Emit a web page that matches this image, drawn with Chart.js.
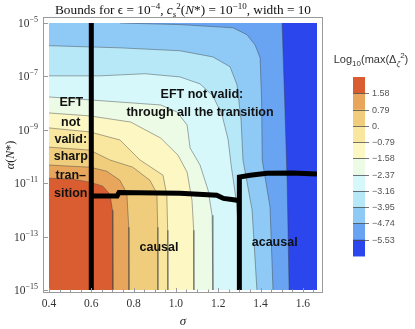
<!DOCTYPE html>
<html>
<head>
<meta charset="utf-8">
<script src="https://cdn.jsdelivr.net/npm/chart.js@4.4.1/dist/chart.umd.min.js"></script>
<style>
  html, body { margin: 0; padding: 0; background: #fff; }
  #wrap { position: relative; width: 415px; height: 329px; }
</style>
</head>
<body>
<div id="wrap"><canvas id="chart"></canvas></div>
<script>
// ============================================================
// DATA
// ============================================================

// contour levels of Log10(max(Delta_zeta^2)), highest first
const levelValues = [1.58, 0.79, 0, -0.79, -1.58, -2.37, -3.16, -3.95, -4.74, -5.53];
const levelLabels = ["1.58", "0.79", "0.", "\u22120.79", "\u22121.58", "\u22122.37", "\u22123.16", "\u22123.95", "\u22124.74", "\u22125.53"];

// one colour per band, from above 1.58 down to below -5.53
const bandColors = ["#d95d30", "#e8a55c", "#f0cd7c", "#f9e7a0", "#fdf7c4", "#ecfbe6",
                    "#d6f8fb", "#b7e8f8", "#8fcaf6", "#68a4f2", "#2c46ee"];

// contour lines, points are [sigma, log10 alpha(N*)]
const contour158 = [[0.4,-10.81],[0.512,-10.85],[0.593,-10.96],[0.654,-11.11],[0.688,-11.41],[0.700,-12.01],[0.702,-15]];
const contour079 = [[0.4,-10.32],[0.593,-10.40],[0.673,-10.55],[0.735,-10.89],[0.768,-11.38],[0.777,-12.65],[0.778,-15]];
const contour0   = [[0.4,-9.65],[0.593,-9.76],[0.688,-10.13],[0.796,-10.40],[0.877,-10.89],[0.910,-11.38],[0.914,-12.65],[0.915,-15]];
const contourM079 = [[0.4,-8.93],[0.593,-9.08],[0.735,-9.38],[0.830,-10.13],[0.939,-10.70],[0.957,-11.45],[0.961,-12.76],[0.962,-15]];
const contourM158 = [[0.4,-8.37],[0.593,-8.48],[0.786,-8.71],[0.928,-9.31],[1.010,-9.95],[1.053,-10.59],[1.076,-11.64],[1.084,-12.76],[1.085,-15]];
const contourM237 = [[0.4,-7.77],[0.593,-7.88],[0.786,-7.99],[0.928,-8.07],[1.005,-8.33],[1.053,-8.82],[1.067,-9.68],[1.114,-10.32],[1.152,-11.26],[1.171,-12.20],[1.175,-15]];
const contourM316 = [[0.4,-6.98],[0.640,-6.98],[0.853,-6.90],[1.019,-7.02],[1.114,-7.28],[1.175,-7.73],[1.218,-8.44],[1.247,-9.38],[1.261,-10.32],[1.285,-11.64],[1.301,-13.14],[1.303,-15]];
const contourM395 = [[0.4,-5.85],[0.735,-5.93],[1.019,-6.04],[1.175,-6.27],[1.256,-6.64],[1.289,-7.32],[1.308,-8.63],[1.317,-10.13],[1.360,-12.0],[1.383,-15]];
// these two leave the plot through the top edge
const contourM474 = [[0.735,-5],[1.019,-5.06],[1.270,-5.18],[1.336,-5.44],[1.374,-5.82],[1.398,-6.30],[1.405,-7.88],[1.408,-10.13],[1.445,-11.90],[1.459,-15]];
const contourM553 = [[1.502,-5],[1.514,-7.88],[1.526,-11.0],[1.535,-15]];

// thick black bounds
const eftBound     = [[0.6,-5],[0.6,-15]];
const causalBound  = [[0.6,-11.48],[0.722,-11.48],[0.731,-11.35],[1.019,-11.38],[1.193,-11.45],[1.225,-11.57],[1.281,-11.63],[1.30,-11.66]];
const acausalBound = [[1.30,-15],[1.30,-10.77],[1.351,-10.70],[1.431,-10.63],[1.55,-10.62],[1.667,-10.66]];

// plot range of the data and the ticks
const sigmaMin = 0.4, sigmaMax = 1.667;
const alphaMin = -15, alphaMax = -5;
const xTicks = [0.4, 0.6, 0.8, 1.0, 1.2, 1.4, 1.6];
const xTickLabels = ["0.4", "0.6", "0.8", "1.0", "1.2", "1.4", "1.6"];
const yTicks = [-5, -7, -9, -11, -13, -15];

// region labels
const regionLabels = [
  { text: "EFT not valid:",             sigma: 1.123, alpha: -7.69 },
  { text: "through all the transition", sigma: 1.114, alpha: -8.37 },
  { text: "EFT",    sigma: 0.505, alpha: -7.99 },
  { text: "not",    sigma: 0.503, alpha: -8.71 },
  { text: "valid:", sigma: 0.503, alpha: -9.38 },
  { text: "sharp",  sigma: 0.503, alpha: -10.02 },
  { text: "tran\u2013", sigma: 0.503, alpha: -10.70 },
  { text: "sition", sigma: 0.503, alpha: -11.38 },
  { text: "causal",  sigma: 0.920, alpha: -13.41 },
  { text: "acausal", sigma: 1.467, alpha: -13.22 },
];


// ============================================================
// STYLE
// ============================================================

const SERIF = '"Liberation Serif", "Times New Roman", serif';
const SANS  = '"Liberation Sans", Arial, sans-serif';
const contourLineColor = "rgba(60,60,60,0.55)";
const frameColor = "#9a9a9a";


// ============================================================
// DATASETS
// ============================================================

function toPoints(arr) {
  return arr.map(p => ({ x: p[0], y: p[1] }));
}

// closed region below / left of a contour, down to the bottom-left corner
function bandShape(contour) {
  const pts = contour.slice();
  if (pts[0][0] > sigmaMin) pts.unshift([sigmaMin, alphaMax]);
  pts.push([sigmaMin, alphaMin]);
  return pts;
}

const contours = [contour158, contour079, contour0, contourM079, contourM158,
                  contourM237, contourM316, contourM395, contourM474, contourM553];

function boundDataset(arr, order) {
  return {
    data: toPoints(arr),
    borderColor: "#000",
    borderWidth: 5,
    borderCapStyle: "butt",
    borderJoinStyle: "miter",
    pointRadius: 0,
    fill: false,
    clip: 0,
    order: order,
  };
}

const datasets = [
  boundDataset(eftBound, 0),
  boundDataset(causalBound, 1),
  boundDataset(acausalBound, 2),
];

contours.forEach((c, i) => {
  // contour line
  datasets.push({
    data: toPoints(c),
    fill: false,
    borderColor: contourLineColor,
    borderWidth: 0.8,
    pointRadius: 0,
    order: 5,
  });
  // filled band above this level
  datasets.push({
    data: toPoints(bandShape(c)),
    fill: "shape",
    backgroundColor: bandColors[i],
    borderWidth: 0,
    pointRadius: 0,
    order: 10 + i,
  });
});

// lowest band fills the whole plot underneath
datasets.push({
  data: toPoints([[sigmaMin, alphaMax], [sigmaMax, alphaMax], [sigmaMax, alphaMin], [sigmaMin, alphaMin]]),
  fill: "shape",
  backgroundColor: bandColors[10],
  borderWidth: 0,
  pointRadius: 0,
  order: 30,
});


// ============================================================
// DRAWING HELPERS
// ============================================================

function drawRuns(ctx, runs, x, y, align) {
  let w = 0;
  runs.forEach(r => { ctx.font = r.f; w += ctx.measureText(r.t).width; });
  let cx = align === "center" ? x - w / 2 : align === "right" ? x - w : x;
  ctx.textAlign = "left";
  ctx.textBaseline = "alphabetic";
  runs.forEach(r => {
    ctx.font = r.f;
    ctx.fillText(r.t, cx, y + (r.dy || 0));
    cx += ctx.measureText(r.t).width;
  });
}

const decorPlugin = {
  id: "decor",
  afterDatasetsDraw(chart) {
    const { ctx, scales: { x, y } } = chart;
    ctx.save();
    ctx.fillStyle = "#111";
    ctx.font = "bold 12.5px " + SANS;
    ctx.textAlign = "center";
    ctx.textBaseline = "middle";
    regionLabels.forEach(l => ctx.fillText(l.text, x.getPixelForValue(l.sigma), y.getPixelForValue(l.alpha)));
    ctx.restore();
  },
  afterDraw(chart) {
    const { ctx, chartArea: a, scales: { x, y } } = chart;
    // frame sits a little outside the data region
    const f = { left: a.left - 6, top: a.top - 6, right: a.right + 6, bottom: a.bottom + 3 };
    ctx.save();

    ctx.strokeStyle = frameColor;
    ctx.lineWidth = 1;
    ctx.strokeRect(f.left + 0.5, f.top + 0.5, f.right - f.left - 1, f.bottom - f.top - 1);

    // x ticks (inward), minor every 0.05
    ctx.beginPath();
    for (let v = 0.4; v <= 1.6501; v += 0.05) {
      const px = Math.round(x.getPixelForValue(v)) + 0.5;
      const major = xTicks.some(t => Math.abs(t - v) < 1e-6);
      ctx.moveTo(px, f.bottom - 1);
      ctx.lineTo(px, f.bottom - 1 - (major ? 4 : 2.5));
    }
    yTicks.forEach(t => {
      const py = Math.round(y.getPixelForValue(t)) + 0.5;
      ctx.moveTo(f.left + 1, py);
      ctx.lineTo(f.left + 5, py);
    });
    ctx.stroke();

    // tick labels
    ctx.fillStyle = "#333";
    ctx.font = "11.5px " + SERIF;
    ctx.textAlign = "center";
    ctx.textBaseline = "top";
    xTicks.forEach((t, i) => ctx.fillText(xTickLabels[i], x.getPixelForValue(t), f.bottom + 5));
    yTicks.forEach(t => {
      drawRuns(ctx, [
        { t: "10", f: "11.5px " + SERIF },
        { t: "\u2212" + Math.abs(t), f: "8px " + SERIF, dy: -5 },
      ], f.left - 5, y.getPixelForValue(t) + 4, "right");
    });

    // axis titles
    ctx.fillStyle = "#222";
    drawRuns(ctx, [{ t: "\u03c3", f: "italic 13px " + SERIF }], (f.left + f.right) / 2, 325, "center");
    ctx.save();
    ctx.translate(10, (f.top + f.bottom) / 2);
    ctx.rotate(-Math.PI / 2);
    drawRuns(ctx, [
      { t: "\u03b1", f: "italic 12px " + SERIF },
      { t: "(", f: "12px " + SERIF },
      { t: "N", f: "italic 12px " + SERIF },
      { t: "*", f: "12px " + SERIF },
      { t: ")", f: "12px " + SERIF },
    ], 0, 4, "center");
    ctx.restore();

    // chart title
    ctx.fillStyle = "#111";
    const tf = "13.3px " + SERIF, tfs = "9px " + SERIF;
    drawRuns(ctx, [
      { t: "Bounds for \u03f5 = 10", f: tf },
      { t: "\u22124", f: tfs, dy: -5 },
      { t: ", ", f: tf },
      { t: "c", f: "italic " + tf },
      { t: "s", f: "italic " + tfs, dy: 3 },
      { t: "2", f: tfs, dy: -5 },
      { t: "(", f: tf },
      { t: "N", f: "italic " + tf },
      { t: "*) = 10", f: tf },
      { t: "\u221210", f: tfs, dy: -5 },
      { t: ", width = 10", f: tf },
    ], 183, 14, "center");

    // colour legend
    const barX = 353, barW = 12, barTop = 77, bandH = 16.27;
    bandColors.forEach((c, i) => {
      ctx.fillStyle = c;
      ctx.fillRect(barX, barTop + i * bandH, barW, bandH + 0.5);
    });
    ctx.strokeStyle = "rgba(70,70,70,0.75)";
    ctx.lineWidth = 1;
    ctx.fillStyle = "#555";
    ctx.font = "9px " + SANS;
    ctx.textAlign = "left";
    ctx.textBaseline = "middle";
    levelLabels.forEach((lab, i) => {
      const py = Math.round(barTop + (i + 1) * bandH) + 0.5;
      ctx.beginPath();
      ctx.moveTo(barX, py);
      ctx.lineTo(barX + barW + 4, py);
      ctx.stroke();
      ctx.fillText(lab, barX + barW + 7, py);
    });
    ctx.fillStyle = "#333";
    const lf = "11px " + SANS, lfs = "8px " + SANS;
    drawRuns(ctx, [
      { t: "Log", f: lf },
      { t: "10", f: lfs, dy: 3 },
      { t: "(max(\u0394", f: lf },
      { t: "\u03b6", f: "italic " + lfs, dy: 3 },
      { t: "2", f: lfs, dy: -5 },
      { t: ")", f: lf },
    ], 371, 63, "center");

    ctx.restore();
  }
};


// ============================================================
// CHART
// ============================================================

new Chart(document.getElementById("chart"), {
  type: "line",
  data: { datasets: datasets },
  options: {
    responsive: true,
    maintainAspectRatio: false,
    animation: false,
    layout: { padding: { left: 49, top: 23, right: 98, bottom: 39 } },
    plugins: {
      legend: { display: false },
      tooltip: { enabled: false },
    },
    scales: {
      x: { type: "linear", min: sigmaMin, max: sigmaMax, display: false },
      y: { type: "linear", min: alphaMin, max: alphaMax, display: false },
    },
  },
  plugins: [decorPlugin],
});
</script>
</body>
</html>
